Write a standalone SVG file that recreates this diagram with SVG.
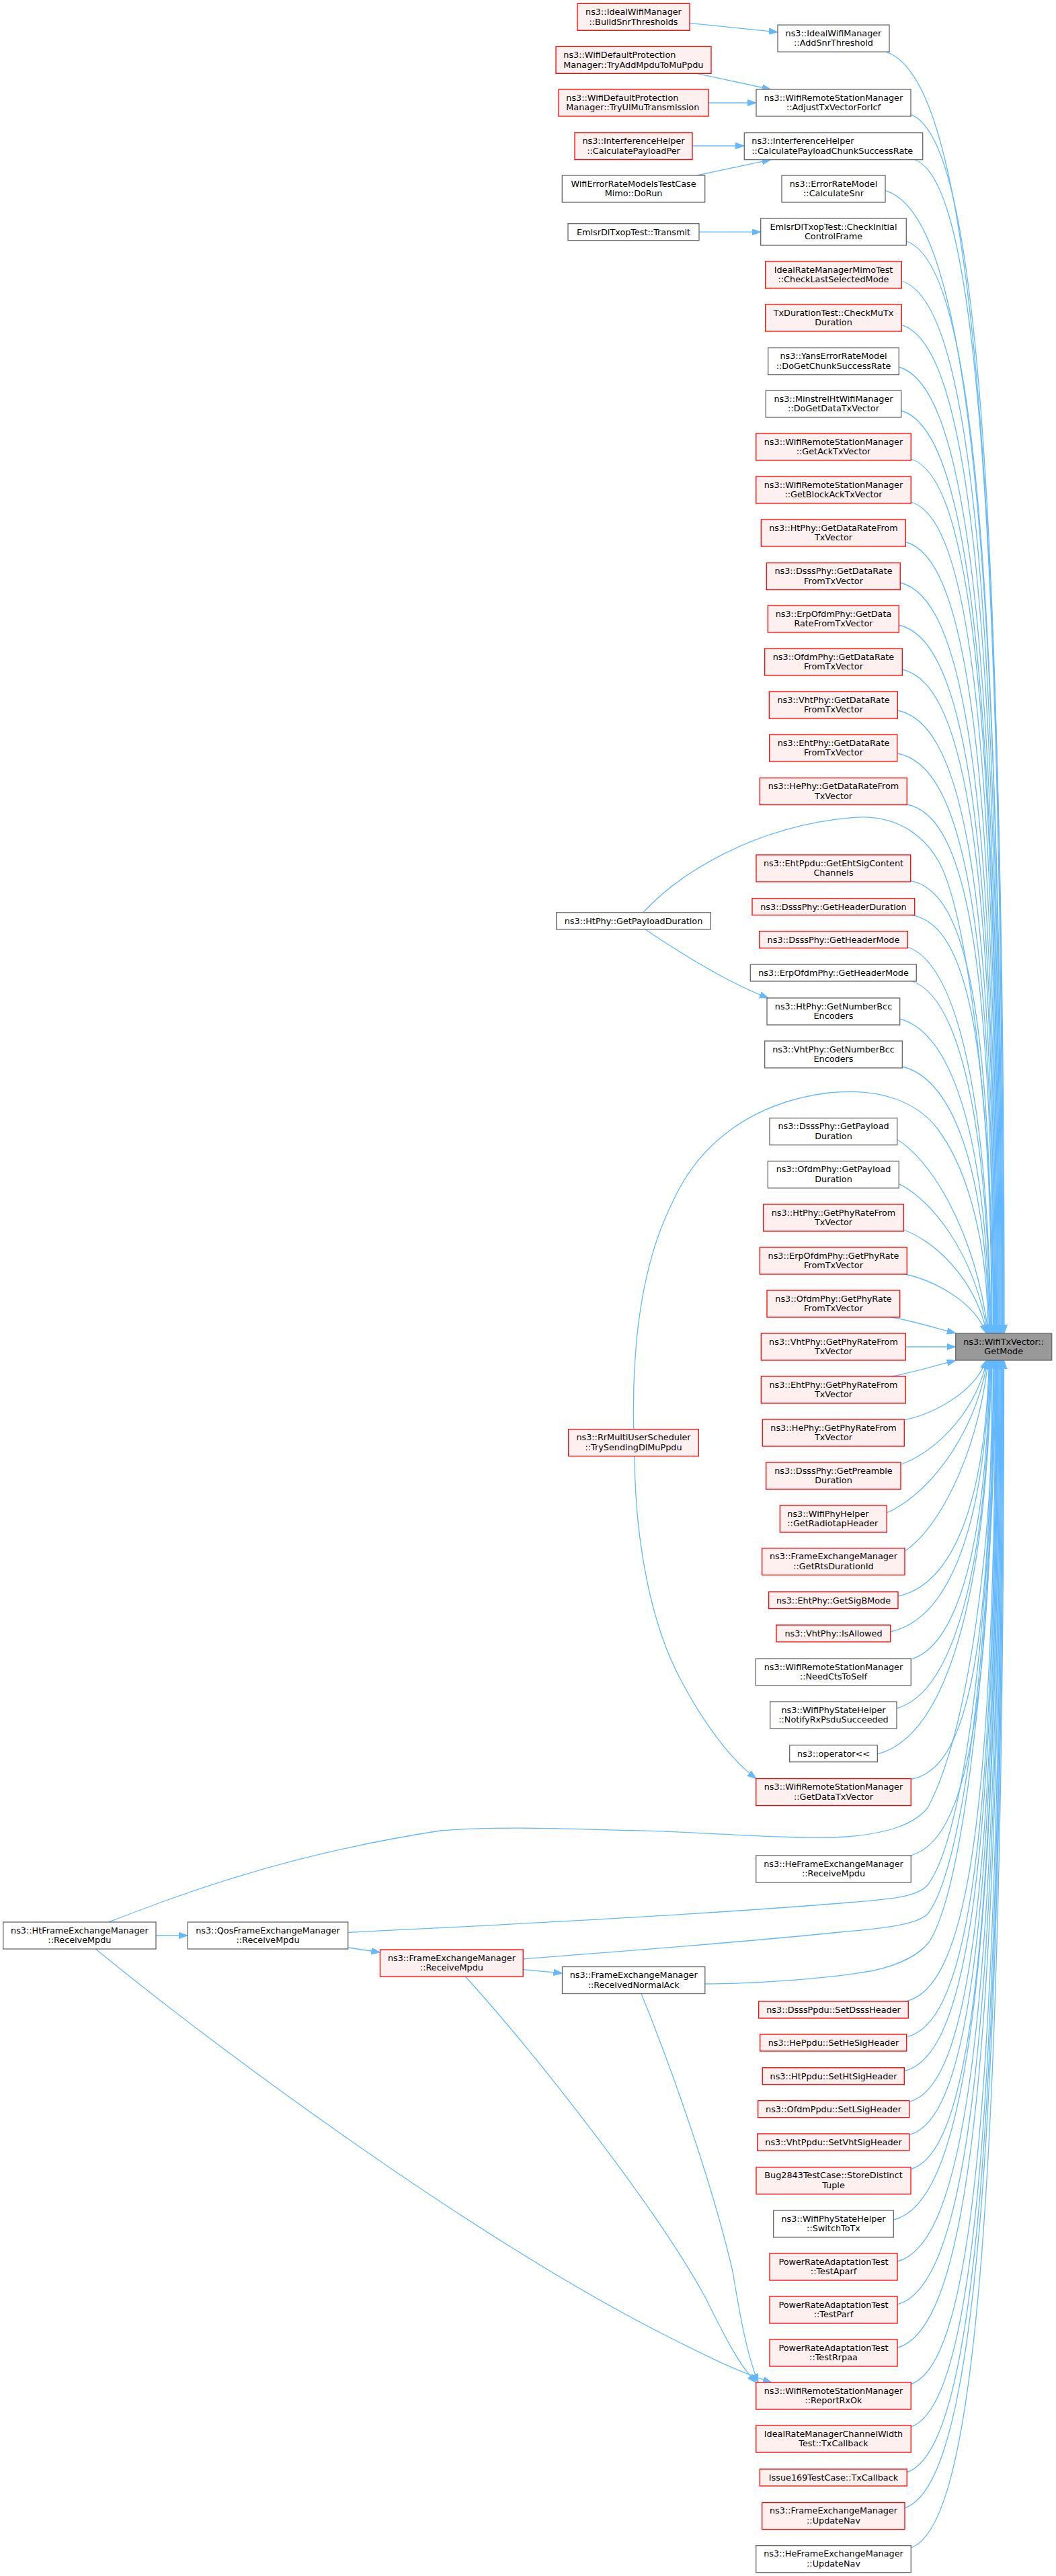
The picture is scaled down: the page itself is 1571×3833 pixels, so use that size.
<svg xmlns="http://www.w3.org/2000/svg" width="1571" height="3833" viewBox="0 0 1571 3833">
<defs>
<marker id="a" markerUnits="userSpaceOnUse" markerWidth="14" markerHeight="10" refX="13" refY="4.6" orient="auto" viewBox="0 0 14 10"><path d="M0,0 L13,4.6 L0,9.2 z" fill="#63b8ff" stroke="#63b8ff" stroke-width="1"/></marker>
</defs>
<style>
.r rect{fill:#fff0f0;stroke:#ff0000;stroke-width:1.3}
.g rect{fill:#ffffff;stroke:#666666;stroke-width:1.3}
.t rect{fill:#999999;stroke:#666666;stroke-width:1.3}
text{font-family:"DejaVu Sans",sans-serif;font-size:12.8px;text-anchor:middle;fill:#000000}
.l text{text-anchor:start}
#edges path{fill:none;stroke:#63b8ff;stroke-width:1.3;marker-end:url(#a)}
</style>
<rect x="0" y="0" width="1571" height="3833" fill="#ffffff"/>
<g id="edges">
<path d="M1026,34.3 L1157,47.8"/>
<path d="M1036.7,109.4 L1146.7,133"/>
<path d="M1054,153 L1125,153"/>
<path d="M1030,217 L1107.3,217"/>
<path d="M1036.7,261 L1146.7,237.6"/>
<path d="M1040,345.2 L1131.7,345.2"/>
<path d="M960,1383 C1030,1430 1090,1465 1143,1485"/>
<path d="M944,2166.7 C945,2300 970,2420 1013,2500 C1050,2570 1090,2620 1125,2646.5"/>
<path d="M232,2880 L279.3,2880"/>
<path d="M517.7,2898 L565.5,2905"/>
<path d="M778.2,2930.6 L836.5,2936"/>
<path d="M141.7,2899.6 C300,3030 700,3330 1000,3480 C1060,3510 1100,3530 1148,3545"/>
<path d="M692.4,2941 C800,3060 980,3290 1050,3420 C1080,3480 1100,3520 1125,3545"/>
<path d="M954,2966.5 C1000,3080 1060,3250 1090,3380 C1100,3440 1110,3500 1128,3545"/>
<path d="M956.7,1357.8 C1010,1300 1120,1230 1266.7,1216.7 C1340,1210 1385,1250 1405,1300 C1445,1400 1478,1700 1478,1984"/>
<path d="M942.7,2126.7 C940,2000 955,1880 1000,1790 C1040,1700 1120,1640 1233,1626 C1310,1618 1365,1640 1395,1680 C1440,1740 1470,1850 1470,1984"/>
<path d="M161.7,2860 C260,2822 420,2760 655,2724 C760,2716 880,2723 945,2723.7 C1050,2726 1180,2738 1260,2733 C1320,2728 1360,2715 1380,2690 C1440,2580 1478,2300 1478,2024"/>
<path d="M517.7,2875.5 C700,2866 1000,2852 1250,2832 C1330,2826 1365,2822 1380,2805 C1445,2720 1479,2300 1479,2024"/>
<path d="M778.2,2915 C900,2905 1050,2895 1250,2875 C1330,2868 1365,2862 1380,2848 C1447,2760 1480,2300 1480,2024"/>
<path d="M1048.8,2952 C1110,2952 1230,2945 1300,2932 C1345,2922 1370,2905 1382,2890 C1447,2790 1481,2300 1481,2024"/>
<path d="M1316.7,76.7 C1423.1,109.3 1494,496.3 1494,1984"/>
<path d="M1355.3,170.6 C1437.7,201.8 1492.7,569.5 1492.7,1984"/>
<path d="M1361.7,238 C1439.7,268.2 1491.7,622.1 1491.7,1984"/>
<path d="M1316.7,283.7 C1421.3,313.2 1491.1,657.8 1491.1,1984"/>
<path d="M1348.3,359 C1433.3,387.4 1489.9,716.5 1489.9,1984"/>
<path d="M1341.3,418 C1430,445.5 1489.1,762.5 1489.1,1984"/>
<path d="M1341.3,483.7 C1429.4,510.2 1488.1,813.8 1488.1,1984"/>
<path d="M1337.3,546 C1427.2,571.6 1487.2,862.4 1487.2,1984"/>
<path d="M1340.7,611 C1428,635.6 1486.2,913 1486.2,1984"/>
<path d="M1355.3,683 C1433.2,706.5 1485.2,969.2 1485.2,1984"/>
<path d="M1355.3,747 C1432.6,769.6 1484.2,1019.1 1484.2,1984"/>
<path d="M1347.3,806.5 C1429,828.2 1483.4,1065.5 1483.4,1984"/>
<path d="M1339.3,867 C1425.2,887.8 1482.5,1112.7 1482.5,1984"/>
<path d="M1337.3,930 C1423.8,949.8 1481.5,1161.9 1481.5,1984"/>
<path d="M1342,996 C1425.2,1014.8 1480.6,1213.4 1480.6,1984"/>
<path d="M1335.3,1057 C1421.9,1074.9 1479.7,1260.9 1479.7,1984"/>
<path d="M1335.3,1121 C1421.3,1137.9 1478.7,1310.9 1478.7,1984"/>
<path d="M1349.3,1197 C1426.3,1212.8 1477.6,1370.1 1477.6,1984"/>
<path d="M1354.7,1310.6 C1427.4,1324.7 1475.9,1458.7 1475.9,1984"/>
<path d="M1356.7,1361.6 C1427.8,1374.9 1475.2,1498.5 1475.2,1984"/>
<path d="M1350,1409 C1412.3,1430.3 1468.3,1581.5 1474.5,1984"/>
<path d="M1356.7,1460 C1415.2,1479.7 1467.8,1617.2 1473.7,1984"/>
<path d="M1338.7,1516 C1405.8,1534 1466.2,1656.4 1472.9,1984"/>
<path d="M1342,1587 C1407,1602.9 1465.4,1706.1 1471.9,1984"/>
<path d="M1334.7,1695.5 C1382.2,1724.4 1450,1825.3 1470.3,1984"/>
<path d="M1337.3,1761.6 C1383.5,1783.8 1449.5,1861.7 1469.3,1984"/>
<path d="M1344.3,1830 C1387.7,1845.4 1449.7,1899.3 1468.3,1984"/>
<path d="M1344.3,1895.5 C1387.3,1904.4 1448.8,1935.3 1467.3,1984"/>
<path d="M1326.7,1960 C1360,1966 1395,1977 1421.7,1983.7"/>
<path d="M1347.3,2004 L1421.7,2004"/>
<path d="M1326.7,2048 C1360,2042 1395,2031 1421.7,2024.3"/>
<path d="M1345,2113 C1387.8,2104.1 1449,2073 1467.4,2024"/>
<path d="M1340,2179 C1384.9,2163.5 1449.1,2109.2 1468.4,2024"/>
<path d="M1319.3,2251 C1371.9,2228.3 1447,2148.8 1469.5,2024"/>
<path d="M1346,2308 C1389.5,2279.6 1451.7,2180.2 1470.4,2024"/>
<path d="M1336,2375 C1403.8,2360.5 1464.7,2269.7 1471.5,2024"/>
<path d="M1324.7,2428 C1398.5,2411.9 1464.9,2306.8 1472.3,2024"/>
<path d="M1355.3,2469 C1414.1,2451.6 1467,2335.5 1472.9,2024"/>
<path d="M1334,2542 C1404,2522.5 1467.1,2386.6 1474.1,2024"/>
<path d="M1305.3,2610 C1390.2,2588.4 1466.6,2434.2 1475.1,2024"/>
<path d="M1355.3,2647.5 C1427.5,2634.1 1475.7,2510.3 1475.7,2024"/>
<path d="M1350,2762 C1426.5,2746.9 1477.5,2599.6 1477.5,2024"/>
<path d="M1347.3,2978 C1427.4,2959.7 1480.8,2768.1 1480.8,2024"/>
<path d="M1349.3,3030.6 C1428.7,3011.5 1481.7,2809.1 1481.7,2024"/>
<path d="M1345.3,3081.6 C1427.6,3061.7 1482.5,2848.9 1482.5,2024"/>
<path d="M1352.7,3127.3 C1431,3106.8 1483.2,2884.6 1483.2,2024"/>
<path d="M1353.3,3176.3 C1431.7,3155 1483.9,2922.8 1483.9,2024"/>
<path d="M1355,3227.7 C1432.8,3205.6 1484.7,2962.9 1484.7,2024"/>
<path d="M1329.3,3303 C1423.3,3279.8 1485.9,3021.6 1485.9,2024"/>
<path d="M1335,3365 C1426.1,3340.9 1486.9,3070 1486.9,2024"/>
<path d="M1335,3429 C1426.7,3403.9 1487.9,3119.9 1487.9,2024"/>
<path d="M1335,3493.4 C1427.3,3467.4 1488.9,3170.1 1488.9,2024"/>
<path d="M1355.3,3547.3 C1435.9,3520.5 1489.7,3212.2 1489.7,2024"/>
<path d="M1355.3,3611 C1436.5,3583.2 1490.7,3261.9 1490.7,2024"/>
<path d="M1349.3,3678.7 C1434.7,3649.9 1491.7,3314.7 1491.7,2024"/>
<path d="M1346,3731.8 C1434,3702.2 1492.6,3356.1 1492.6,2024"/>
<path d="M1355.3,3791 C1438.2,3760.5 1493.5,3402.3 1493.5,2024"/>
</g>
<g id="target" class="t"><rect x="1421.7" y="1984" width="143" height="40"/><text x="1493.2" y="2000.5">ns3::WifiTxVector::</text><text x="1493.2" y="2015.2">GetMode</text></g>
<g id="n1" class="r"><rect x="859" y="5.3" width="167" height="40"/><text x="942.5" y="21.8">ns3::IdealWifiManager</text><text x="942.5" y="36.5">::BuildSnrThresholds</text></g>
<g id="n2" class="r l"><rect x="827" y="69.4" width="231" height="40"/><text x="838.3" y="85.9">ns3::WifiDefaultProtection</text><text x="838.3" y="100.6">Manager::TryAddMpduToMuPpdu</text></g>
<g id="n3" class="r l"><rect x="831" y="133" width="223" height="40"/><text x="842.3" y="149.5">ns3::WifiDefaultProtection</text><text x="842.3" y="164.2">Manager::TryUlMuTransmission</text></g>
<g id="n4" class="r"><rect x="855" y="197.6" width="175" height="40"/><text x="942.5" y="214.1">ns3::InterferenceHelper</text><text x="942.5" y="228.8">::CalculatePayloadPer</text></g>
<g id="n5" class="g"><rect x="836.3" y="261" width="212.4" height="40"/><text x="942.5" y="277.5">WifiErrorRateModelsTestCase</text><text x="942.5" y="292.2">Mimo::DoRun</text></g>
<g id="n6" class="g"><rect x="845" y="332.7" width="195" height="25"/><text x="942.5" y="349.7">EmlsrDlTxopTest::Transmit</text></g>
<g id="n7" class="g"><rect x="827.7" y="1357.8" width="229.6" height="25"/><text x="942.5" y="1374.8">ns3::HtPhy::GetPayloadDuration</text></g>
<g id="n8" class="r"><rect x="845.7" y="2126.7" width="193.6" height="40"/><text x="942.5" y="2143.2">ns3::RrMultiUserScheduler</text><text x="942.5" y="2157.9">::TrySendingDlMuPpdu</text></g>
<g id="n9" class="g"><rect x="4.7" y="2860" width="227.3" height="40"/><text x="118.4" y="2876.5">ns3::HtFrameExchangeManager</text><text x="118.4" y="2891.2">::ReceiveMpdu</text></g>
<g id="n10" class="g"><rect x="279.3" y="2860" width="238.4" height="40"/><text x="398.5" y="2876.5">ns3::QosFrameExchangeManager</text><text x="398.5" y="2891.2">::ReceiveMpdu</text></g>
<g id="n11" class="r"><rect x="565.5" y="2901" width="212.7" height="40"/><text x="671.9" y="2917.5">ns3::FrameExchangeManager</text><text x="671.9" y="2932.2">::ReceiveMpdu</text></g>
<g id="n12" class="g"><rect x="836.5" y="2926.5" width="212.3" height="40"/><text x="942.7" y="2943">ns3::FrameExchangeManager</text><text x="942.7" y="2957.7">::ReceivedNormalAck</text></g>
<g id="r1" class="g"><rect x="1157" y="37.1" width="166" height="40"/><text x="1240" y="53.6">ns3::IdealWifiManager</text><text x="1240" y="68.3">::AddSnrThreshold</text></g>
<g id="r2" class="g"><rect x="1125" y="133" width="230" height="40"/><text x="1240" y="149.5">ns3::WifiRemoteStationManager</text><text x="1240" y="164.2">::AdjustTxVectorForIcf</text></g>
<g id="r3" class="g l"><rect x="1107.3" y="197.6" width="265.4" height="40"/><text x="1118.3" y="214.1">ns3::InterferenceHelper</text><text x="1118.3" y="228.8">::CalculatePayloadChunkSuccessRate</text></g>
<g id="r4" class="g"><rect x="1163" y="261" width="154" height="40"/><text x="1240" y="277.5">ns3::ErrorRateModel</text><text x="1240" y="292.2">::CalculateSnr</text></g>
<g id="r5" class="g"><rect x="1131.7" y="325" width="216.6" height="40"/><text x="1240" y="341.5">EmlsrDlTxopTest::CheckInitial</text><text x="1240" y="356.2">ControlFrame</text></g>
<g id="r6" class="r"><rect x="1138.7" y="389" width="202.6" height="40"/><text x="1240" y="405.5">IdealRateManagerMimoTest</text><text x="1240" y="420.2">::CheckLastSelectedMode</text></g>
<g id="r7" class="r"><rect x="1138.7" y="453" width="202.6" height="40"/><text x="1240" y="469.5">TxDurationTest::CheckMuTx</text><text x="1240" y="484.2">Duration</text></g>
<g id="r8" class="g"><rect x="1142.7" y="517.6" width="194.6" height="40"/><text x="1240" y="534.1">ns3::YansErrorRateModel</text><text x="1240" y="548.8">::DoGetChunkSuccessRate</text></g>
<g id="r9" class="g"><rect x="1139.3" y="581" width="201.4" height="40"/><text x="1240" y="597.5">ns3::MinstrelHtWifiManager</text><text x="1240" y="612.2">::DoGetDataTxVector</text></g>
<g id="r10" class="r"><rect x="1124.7" y="645" width="230.6" height="40"/><text x="1240" y="661.5">ns3::WifiRemoteStationManager</text><text x="1240" y="676.2">::GetAckTxVector</text></g>
<g id="r11" class="r"><rect x="1124.7" y="709" width="230.6" height="40"/><text x="1240" y="725.5">ns3::WifiRemoteStationManager</text><text x="1240" y="740.2">::GetBlockAckTxVector</text></g>
<g id="r12" class="r"><rect x="1132.3" y="773" width="215" height="40"/><text x="1240" y="789.5">ns3::HtPhy::GetDataRateFrom</text><text x="1240" y="804.2">TxVector</text></g>
<g id="r13" class="r"><rect x="1140.3" y="837.6" width="199" height="40"/><text x="1240" y="854.1">ns3::DsssPhy::GetDataRate</text><text x="1240" y="868.8">FromTxVector</text></g>
<g id="r14" class="r"><rect x="1142.3" y="901" width="195" height="40"/><text x="1240" y="917.5">ns3::ErpOfdmPhy::GetData</text><text x="1240" y="932.2">RateFromTxVector</text></g>
<g id="r15" class="r"><rect x="1137.7" y="965" width="204.6" height="40"/><text x="1240" y="981.5">ns3::OfdmPhy::GetDataRate</text><text x="1240" y="996.2">FromTxVector</text></g>
<g id="r16" class="r"><rect x="1144.3" y="1029" width="191" height="40"/><text x="1240" y="1045.5">ns3::VhtPhy::GetDataRate</text><text x="1240" y="1060.2">FromTxVector</text></g>
<g id="r17" class="r"><rect x="1144.7" y="1093" width="190" height="40"/><text x="1240" y="1109.5">ns3::EhtPhy::GetDataRate</text><text x="1240" y="1124.2">FromTxVector</text></g>
<g id="r18" class="r"><rect x="1130.3" y="1157.6" width="219" height="40"/><text x="1240" y="1174.1">ns3::HePhy::GetDataRateFrom</text><text x="1240" y="1188.8">TxVector</text></g>
<g id="r19" class="r"><rect x="1125" y="1272" width="229.7" height="40"/><text x="1240" y="1288.5">ns3::EhtPpdu::GetEhtSigContent</text><text x="1240" y="1303.2">Channels</text></g>
<g id="r20" class="r"><rect x="1119" y="1336.7" width="241.7" height="25"/><text x="1240" y="1353.7">ns3::DsssPhy::GetHeaderDuration</text></g>
<g id="r21" class="r"><rect x="1129.7" y="1385.7" width="220.6" height="25"/><text x="1240" y="1402.7">ns3::DsssPhy::GetHeaderMode</text></g>
<g id="r22" class="g"><rect x="1116.3" y="1435" width="247" height="25"/><text x="1240" y="1452">ns3::ErpOfdmPhy::GetHeaderMode</text></g>
<g id="r23" class="g"><rect x="1141" y="1485" width="197.7" height="40"/><text x="1240" y="1501.5">ns3::HtPhy::GetNumberBcc</text><text x="1240" y="1516.2">Encoders</text></g>
<g id="r24" class="g"><rect x="1137.7" y="1549" width="204.6" height="40"/><text x="1240" y="1565.5">ns3::VhtPhy::GetNumberBcc</text><text x="1240" y="1580.2">Encoders</text></g>
<g id="r25" class="g"><rect x="1145" y="1663.7" width="189.7" height="40"/><text x="1240" y="1680.2">ns3::DsssPhy::GetPayload</text><text x="1240" y="1694.9">Duration</text></g>
<g id="r26" class="g"><rect x="1142.3" y="1727.8" width="195" height="40"/><text x="1240" y="1744.3">ns3::OfdmPhy::GetPayload</text><text x="1240" y="1759">Duration</text></g>
<g id="r27" class="r"><rect x="1135.7" y="1792" width="208.6" height="40"/><text x="1240" y="1808.5">ns3::HtPhy::GetPhyRateFrom</text><text x="1240" y="1823.2">TxVector</text></g>
<g id="r28" class="r"><rect x="1130.3" y="1856" width="219" height="40"/><text x="1240" y="1872.5">ns3::ErpOfdmPhy::GetPhyRate</text><text x="1240" y="1887.2">FromTxVector</text></g>
<g id="r29" class="r"><rect x="1141" y="1920" width="197.7" height="40"/><text x="1240" y="1936.5">ns3::OfdmPhy::GetPhyRate</text><text x="1240" y="1951.2">FromTxVector</text></g>
<g id="r30" class="r"><rect x="1132.3" y="1984" width="215" height="40"/><text x="1240" y="2000.5">ns3::VhtPhy::GetPhyRateFrom</text><text x="1240" y="2015.2">TxVector</text></g>
<g id="r31" class="r"><rect x="1132.3" y="2048" width="215" height="40"/><text x="1240" y="2064.5">ns3::EhtPhy::GetPhyRateFrom</text><text x="1240" y="2079.2">TxVector</text></g>
<g id="r32" class="r"><rect x="1134.3" y="2112" width="211" height="40"/><text x="1240" y="2128.5">ns3::HePhy::GetPhyRateFrom</text><text x="1240" y="2143.2">TxVector</text></g>
<g id="r33" class="r"><rect x="1139.7" y="2176" width="200.3" height="40"/><text x="1240" y="2192.5">ns3::DsssPhy::GetPreamble</text><text x="1240" y="2207.2">Duration</text></g>
<g id="r34" class="r l"><rect x="1160.3" y="2240" width="159" height="40"/><text x="1171.3" y="2256.5">ns3::WifiPhyHelper</text><text x="1171.3" y="2271.2">::GetRadiotapHeader</text></g>
<g id="r35" class="r"><rect x="1133.7" y="2303.7" width="212.3" height="40"/><text x="1240" y="2320.2">ns3::FrameExchangeManager</text><text x="1240" y="2334.9">::GetRtsDurationId</text></g>
<g id="r36" class="r"><rect x="1143.7" y="2368.6" width="192.3" height="25"/><text x="1240" y="2385.6">ns3::EhtPhy::GetSigBMode</text></g>
<g id="r37" class="r"><rect x="1155" y="2418" width="169.7" height="25"/><text x="1240" y="2435">ns3::VhtPhy::IsAllowed</text></g>
<g id="r38" class="g"><rect x="1124.3" y="2468" width="231" height="40"/><text x="1240" y="2484.5">ns3::WifiRemoteStationManager</text><text x="1240" y="2499.2">::NeedCtsToSelf</text></g>
<g id="r39" class="g"><rect x="1145.7" y="2532" width="188.3" height="40"/><text x="1240" y="2548.5">ns3::WifiPhyStateHelper</text><text x="1240" y="2563.2">::NotifyRxPsduSucceeded</text></g>
<g id="r40" class="g"><rect x="1174.7" y="2596.7" width="130.6" height="25"/><text x="1240" y="2613.7">ns3::operator&lt;&lt;</text></g>
<g id="r41" class="r"><rect x="1124.7" y="2646.5" width="230.6" height="40"/><text x="1240" y="2663">ns3::WifiRemoteStationManager</text><text x="1240" y="2677.7">::GetDataTxVector</text></g>
<g id="r42" class="g"><rect x="1124.7" y="2761" width="230.6" height="40"/><text x="1240" y="2777.5">ns3::HeFrameExchangeManager</text><text x="1240" y="2792.2">::ReceiveMpdu</text></g>
<g id="r43" class="r"><rect x="1128.7" y="2978" width="222.6" height="25"/><text x="1240" y="2995">ns3::DsssPpdu::SetDsssHeader</text></g>
<g id="r44" class="r"><rect x="1130.7" y="3027" width="218" height="25"/><text x="1240" y="3044">ns3::HePpdu::SetHeSigHeader</text></g>
<g id="r45" class="r"><rect x="1134.3" y="3076.7" width="211" height="25"/><text x="1240" y="3093.7">ns3::HtPpdu::SetHtSigHeader</text></g>
<g id="r46" class="r"><rect x="1127.7" y="3125.7" width="225" height="25"/><text x="1240" y="3142.7">ns3::OfdmPpdu::SetLSigHeader</text></g>
<g id="r47" class="r"><rect x="1126.7" y="3175" width="226" height="25"/><text x="1240" y="3192">ns3::VhtPpdu::SetVhtSigHeader</text></g>
<g id="r48" class="r"><rect x="1125" y="3224.8" width="230" height="40"/><text x="1240" y="3241.3">Bug2843TestCase::StoreDistinct</text><text x="1240" y="3256">Tuple</text></g>
<g id="r49" class="g"><rect x="1150.7" y="3289" width="178.6" height="40"/><text x="1240" y="3305.5">ns3::WifiPhyStateHelper</text><text x="1240" y="3320.2">::SwitchToTx</text></g>
<g id="r50" class="r"><rect x="1145" y="3353" width="190" height="40"/><text x="1240" y="3369.5">PowerRateAdaptationTest</text><text x="1240" y="3384.2">::TestAparf</text></g>
<g id="r51" class="r"><rect x="1145" y="3417" width="190" height="40"/><text x="1240" y="3433.5">PowerRateAdaptationTest</text><text x="1240" y="3448.2">::TestParf</text></g>
<g id="r52" class="r"><rect x="1145" y="3481" width="190" height="40"/><text x="1240" y="3497.5">PowerRateAdaptationTest</text><text x="1240" y="3512.2">::TestRrpaa</text></g>
<g id="r53" class="r"><rect x="1124.7" y="3545" width="230.6" height="40"/><text x="1240" y="3561.5">ns3::WifiRemoteStationManager</text><text x="1240" y="3576.2">::ReportRxOk</text></g>
<g id="r54" class="r"><rect x="1124.7" y="3609" width="230.6" height="40"/><text x="1240" y="3625.5">IdealRateManagerChannelWidth</text><text x="1240" y="3640.2">Test::TxCallback</text></g>
<g id="r55" class="r"><rect x="1130.3" y="3674" width="219" height="25"/><text x="1240" y="3691">Issue169TestCase::TxCallback</text></g>
<g id="r56" class="r"><rect x="1133.7" y="3723.6" width="212.3" height="40"/><text x="1240" y="3740.1">ns3::FrameExchangeManager</text><text x="1240" y="3754.8">::UpdateNav</text></g>
<g id="r57" class="g"><rect x="1124.7" y="3787.7" width="230.6" height="40"/><text x="1240" y="3804.2">ns3::HeFrameExchangeManager</text><text x="1240" y="3818.9">::UpdateNav</text></g>
</svg>
